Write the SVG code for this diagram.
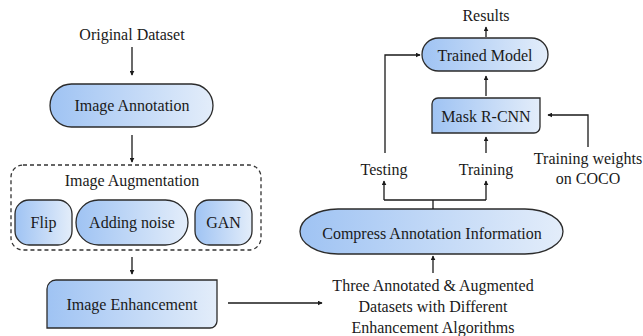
<svg xmlns="http://www.w3.org/2000/svg" width="643" height="336" viewBox="0 0 643 336">
<style>
text{font-family:'Liberation Serif','DejaVu Serif',serif;font-size:16px;fill:#1a1a1a;text-anchor:middle}
.n{fill:url(#g);stroke:#2b2b2b;stroke-width:1.3}
.c{fill:none;stroke:#1a1a1a;stroke-width:1.3}
</style>
<defs>
<linearGradient id="g" x1="0" y1="0" x2="1" y2="0">
<stop offset="0" stop-color="#9fc3f3"/>
<stop offset="1" stop-color="#e3edfa"/>
</linearGradient>
<marker id="a" viewBox="0 0 8 8" refX="7" refY="4" markerWidth="5" markerHeight="5" orient="auto" markerUnits="userSpaceOnUse">
<path d="M0,0 L8,4 L0,8 Z" fill="#1a1a1a"/>
</marker>
</defs>
<g font-family="Liberation Serif, DejaVu Serif, serif">
<g id="original-dataset"><text x="132" y="40">Original Dataset</text></g>
<g id="image-annotation"><rect class="n" x="50" y="84" width="163" height="43" rx="21.5"/><text x="132" y="111">Image Annotation</text></g>
<g id="image-augmentation">
<rect x="11" y="165" width="250" height="85" rx="12" fill="none" stroke="#333" stroke-width="1.3" stroke-dasharray="4,3"/>
<text x="132" y="186">Image Augmentation</text>
</g>
<g id="flip"><rect class="n" x="15" y="200" width="57" height="45" rx="14"/><text x="43.5" y="228">Flip</text></g>
<g id="adding-noise"><rect class="n" x="76" y="200" width="112" height="45" rx="22.5"/><text x="132" y="228">Adding noise</text></g>
<g id="gan"><rect class="n" x="195" y="200" width="57" height="45" rx="14"/><text x="223.5" y="228">GAN</text></g>
<g id="image-enhancement"><path class="n" d="M56,280 H217 V321 A7,7 0 0 1 210,328 H47 V289 A9,9 0 0 1 56,280 Z"/><text x="132" y="310">Image Enhancement</text></g>
<g id="three-datasets">
<text x="433" y="291">Three Annotated &amp; Augmented</text>
<text x="433" y="312">Datasets with Different</text>
<text x="433" y="333">Enhancement Algorithms</text>
</g>
<g id="compress"><rect class="n" x="300" y="209" width="263" height="45" rx="38" ry="22.5"/><text x="432" y="239">Compress Annotation Information</text></g>
<g id="testing"><text x="384" y="175">Testing</text></g>
<g id="training"><text x="486" y="175">Training</text></g>
<g id="mask-rcnn"><path class="n" d="M438,98 H540 V127 A6,6 0 0 1 534,133 H432 V104 A6,6 0 0 1 438,98 Z"/><text x="486" y="122">Mask R-CNN</text></g>
<g id="trained-model"><rect class="n" x="422" y="38" width="126" height="33" rx="16.5"/><text x="485" y="61">Trained Model</text></g>
<g id="results"><text x="486" y="21">Results</text></g>
<g id="coco"><text x="588" y="164">Training weights</text><text x="588" y="184">on COCO</text></g>
</g>
<g id="connectors">
<path class="c" d="M132,47 V75" marker-end="url(#a)"/>
<path class="c" d="M132,135 V162" marker-end="url(#a)"/>
<path class="c" d="M132,257 V274" marker-end="url(#a)"/>
<path class="c" d="M228,303 H322" marker-end="url(#a)"/>
<path class="c" d="M433,273 V256" marker-end="url(#a)"/>
<path class="c" d="M433,209 V200"/>
<path class="c" d="M384,200 H486"/>
<path class="c" d="M384,200 V181" marker-end="url(#a)"/>
<path class="c" d="M486,200 V181" marker-end="url(#a)"/>
<path class="c" d="M385,153 V55 H420" marker-end="url(#a)"/>
<path class="c" d="M486,153 V137" marker-end="url(#a)"/>
<path class="c" d="M486,96 V76" marker-end="url(#a)"/>
<path class="c" d="M486,37 V27" marker-end="url(#a)"/>
<path class="c" d="M588,147 V115 H548" marker-end="url(#a)"/>
</g>
</svg>
